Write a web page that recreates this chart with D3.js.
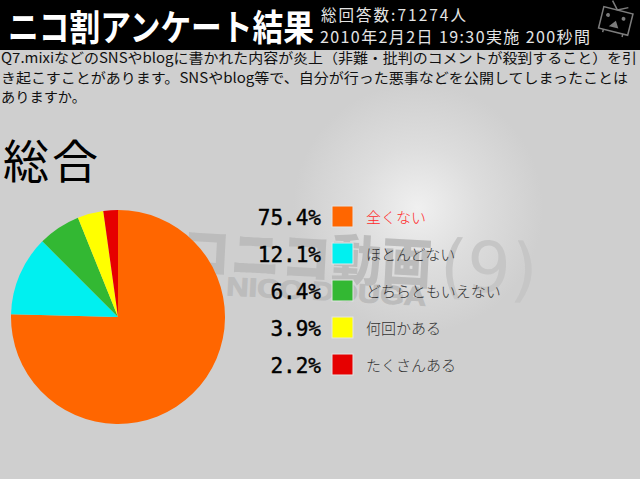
<!DOCTYPE html>
<html>
<head>
<meta charset="utf-8">
<script src="https://cdn.jsdelivr.net/npm/d3@7"></script>
<style>
html, body { margin: 0; padding: 0; background: #cfcfcf; overflow: hidden; }
svg { display: block; font-family: "Noto Sans CJK JP", sans-serif; }
</style>
</head>
<body>
<script>
// values
const labels = ["全くない", "ほとんどない", "どちらともいえない", "何回かある", "たくさんある"];
const percents = [75.4, 12.1, 6.4, 3.9, 2.2];
const colors = ["#ff6600", "#00f0f0", "#33b833", "#ffff00", "#e60000"];
const questionLines = [
  "Q7.mixiなどのSNSやblogに書かれた内容が炎上（非難・批判のコメントが殺到すること）を引",
  "き起こすことがあります。SNSやblog等で、自分が行った悪事などを公開してしまったことは",
  "ありますか。"
];

var width = 640;
var height = 479;

var svg = d3.select("body").append("svg")
    .attr("width", width)
    .attr("height", height);

// background glow
var grad = svg.append("defs").append("radialGradient")
    .attr("id", "glow")
    .attr("gradientUnits", "userSpaceOnUse")
    .attr("cx", 418).attr("cy", 208).attr("r", 125);
grad.append("stop").attr("offset", "0%").attr("stop-color", "#f0f0f0");
grad.append("stop").attr("offset", "50%").attr("stop-color", "#dddddd");
grad.append("stop").attr("offset", "100%").attr("stop-color", "#cfcfcf");

svg.append("rect").attr("width", width).attr("height", height).attr("fill", "#cfcfcf");
svg.append("rect").attr("y", 50).attr("width", width).attr("height", height - 50).attr("fill", "url(#glow)");

// watermark
var mark = svg.append("g").attr("transform", "rotate(3 320 260)");
mark.append("text").attr("x", 130).attr("y", 278)
    .attr("font-size", 54).attr("font-weight", 900).attr("fill", "#bcbcbc")
    .attr("textLength", 302).attr("lengthAdjust", "spacingAndGlyphs")
    .text("ニコニコ動画");
mark.append("text").attr("x", 440).attr("y", 283)
    .attr("font-size", 70).attr("fill", "#c6c6c6")
    .attr("font-family", "DejaVu Sans").attr("textLength", 98)
    .attr("lengthAdjust", "spacingAndGlyphs")
    .text("(9)");
mark.append("text").attr("x", 228).attr("y", 300)
    .attr("font-size", 26).attr("font-weight", 700).attr("fill", "#bcbcbc")
    .attr("stroke", "#bcbcbc").attr("stroke-width", 1)
    .attr("font-family", "Liberation Sans").attr("textLength", 200)
    .attr("lengthAdjust", "spacingAndGlyphs")
    .text("NICO DOUGA");

// header
svg.append("rect").attr("width", width).attr("height", 50).attr("fill", "#000");
svg.append("text").attr("x", 8).attr("y", 41)
    .attr("font-size", 36).attr("font-weight", 700).attr("fill", "#fff")
    .attr("textLength", 306).attr("lengthAdjust", "spacingAndGlyphs")
    .text("ニコ割アンケート結果");
svg.append("text").attr("x", 321).attr("y", 21)
    .attr("font-size", 15.5).attr("fill", "#e4e4e4").attr("textLength", 145)
    .text("総回答数:71274人");
svg.append("text").attr("x", 320).attr("y", 43)
    .attr("font-size", 16).attr("fill", "#e4e4e4").attr("textLength", 270)
    .text("2010年2月2日 19:30実施 200秒間");

// tv icon
var tv = svg.append("g").attr("transform", "translate(616,20) rotate(14)")
    .attr("fill", "none").attr("stroke", "#7c7c7c").attr("stroke-width", 1.5);
tv.append("rect").attr("x", -15).attr("y", -10).attr("width", 30).attr("height", 22);
tv.append("path").attr("d", "M-1,-10L-8,-18M-1,-10L9,-15M-10,12L-10,15M10,12L10,15");
tv.append("path").attr("d", "M-4,7L3,7L0,2Z").attr("fill", "#7c7c7c");
tv.append("circle").attr("cx", -9).attr("cy", -3).attr("r", 1.2).attr("fill", "#7c7c7c");
tv.append("circle").attr("cx", 7).attr("cy", -3).attr("r", 1.2).attr("fill", "#7c7c7c");

// question
var questionWidths = [636, 627, 85];
svg.selectAll("text.q")
    .data(questionLines)
    .enter().append("text")
    .attr("class", "q")
    .attr("x", 1)
    .attr("y", function(d, i) { return 63 + i * 19.5; })
    .attr("font-size", 14)
    .attr("fill", "#111")
    .attr("textLength", function(d, i) { return questionWidths[i]; })
    .attr("lengthAdjust", "spacingAndGlyphs")
    .text(function(d) { return d; });

svg.append("text").attr("x", 3).attr("y", 178)
    .attr("font-size", 46).attr("fill", "#000").attr("textLength", 95)
    .text("総合");

// pie, clockwise from 12 o'clock
var pie = d3.pie().sort(null).value(function(d) { return d; });
var arc = d3.arc().innerRadius(0).outerRadius(107);
svg.append("g").attr("transform", "translate(118,317)")
    .selectAll("path")
    .data(pie(percents))
    .enter().append("path")
    .attr("d", arc)
    .attr("fill", function(d, i) { return colors[i]; });

// legend rows
var row = d3.scaleBand()
    .domain(d3.range(labels.length))
    .range([198, 383]);
var rows = svg.selectAll("g.row")
    .data(labels)
    .enter().append("g")
    .attr("class", "row")
    .attr("transform", function(d, i) { return "translate(0," + (row(i) + row.bandwidth() / 2) + ")"; });
rows.append("text")
    .attr("x", 321).attr("y", 8)
    .attr("text-anchor", "end")
    .attr("font-size", 21)
    .attr("font-family", "DejaVu Sans Mono")
    .attr("fill", "#000")
    .attr("stroke", "#000").attr("stroke-width", 0.4)
    .text(function(d, i) { return percents[i].toFixed(1) + "%"; });
rows.append("rect")
    .attr("x", 332).attr("y", -10.5)
    .attr("width", 21).attr("height", 21)
    .attr("stroke", "#e4e4e4").attr("stroke-width", 1)
    .attr("fill", function(d, i) { return colors[i]; });
rows.append("text")
    .attr("x", 366).attr("y", 6)
    .attr("font-size", 15)
    .attr("font-weight", 300)
    .attr("fill", function(d, i) { return i === 0 ? "#ff2a2a" : "#333"; })
    .text(function(d) { return d; });
</script>
</body>
</html>
